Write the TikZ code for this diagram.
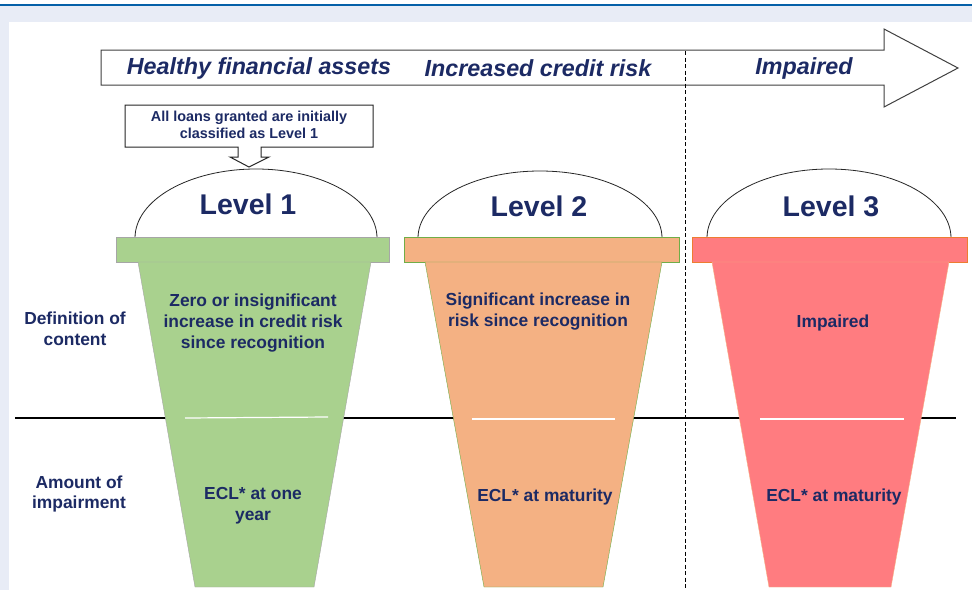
\documentclass[tikz,border=0pt]{standalone}
\usepackage{fontspec}
\setmainfont{Liberation Sans}
\definecolor{navy}{RGB}{28,42,100}
\definecolor{pagebg}{RGB}{232,236,246}
\definecolor{topline}{RGB}{5,96,168}
\definecolor{lvlgreen}{RGB}{169,209,142}
\definecolor{lvlorange}{RGB}{244,177,131}
\definecolor{lvlred}{RGB}{255,124,128}
\definecolor{edgegreen}{RGB}{112,173,71}
\definecolor{edgeorange}{RGB}{237,125,49}
\tikzset{
  phase/.style={text=navy,font=\fontsize{23.3}{26}\selectfont\bfseries\itshape},
  lvltitle/.style={text=navy,font=\fontsize{28.5}{32}\selectfont\bfseries},
  cuptext/.style={text=navy,align=center,font=\fontsize{17.4}{21}\selectfont\bfseries},
  rowlabel/.style={text=navy,align=center,font=\fontsize{17.4}{20.5}\selectfont\bfseries},
  dome/.style={draw=black!85,fill=white,line width=0.8pt},
  sepline/.style={white,line width=1.2pt}
}
\begin{document}
\begin{tikzpicture}[x=1pt,y=-1pt]
        \useasboundingbox (0,0) rectangle (972,590);
        \fill[pagebg] (0,0) rectangle (972,590);
        \fill[white] (0,0) rectangle (972,4);
        \fill[white] (9,22) rectangle (972,590);
        \draw[topline, line width=2pt] (0,4.5) -- (972,4.5);
        \draw[line width=2.2pt] (15,418) -- (956,418);
        \draw[fill=white, draw=black!75, line width=1pt] (101,50) -- (884,50) -- (884,29) -- (958,68) -- (884,107) -- (884,85) -- (101,85) -- cycle;
        \draw[dash pattern=on 4pt off 2.5pt, line width=0.9pt] (685,51) -- (685,590);
        \node[phase] (healthy) at (259,68) {Healthy financial assets};
        \node[phase] (increased) at (538,68) {Increased credit risk};
        \node[phase] (impairedphase) at (804,68) {Impaired};
        \draw[fill=white, draw=black!85, line width=1pt] (125,105) -- (373,105) -- (373,147) -- (261,147) -- (261,157) -- (269,157) -- (249,167) -- (230,157) -- (238,157) -- (238,147) -- (125,147) -- cycle;
        \node[text=navy, align=center, font=\fontsize{14.4}{17}\selectfont\bfseries] (initial) at (249,125) {All loans granted are initially\\classified as Level 1};
        \draw[dome] (135,238) arc[start angle=180, end angle=360, x radius=121, y radius=69];
        \draw[dome] (418,238) arc[start angle=180, end angle=360, x radius=122, y radius=67];
        \draw[dome] (707,238) arc[start angle=180, end angle=360, x radius=122, y radius=69];
        \fill[lvlgreen, draw=black!35] (116,237) rectangle (389,262);
        \fill[lvlorange, draw=edgegreen] (404,237) rectangle (679,262);
        \fill[lvlred, draw=edgeorange] (692,237) rectangle (967,262);
        \fill[lvlgreen, draw=black!35] (138,262) -- (371,262) -- (314,587) -- (195,587) -- cycle;
        \fill[lvlorange, draw=edgegreen] (425,262) -- (662,262) -- (603,587) -- (484,587) -- cycle;
        \fill[lvlred, draw=edgeorange!60] (712,262) -- (949,262) -- (891,587) -- (769,587) -- cycle;
        \draw[sepline] (185,418) -- (328,417);
        \draw[sepline] (472,419) -- (615,419);
        \draw[sepline] (760,419) -- (904,419);
        \node[lvltitle] (level1) at (248,204) {Level 1};
        \node[lvltitle] (level2) at (539,206) {Level 2};
        \node[lvltitle] (level3) at (831,206) {Level 3};
        \node[rowlabel] (definition) at (75,329) {Definition of\\content};
        \node[rowlabel] (amount) at (79,494) {Amount of\\impairment};
        \node[cuptext] (zero) at (253,323) {Zero or insignificant\\increase in credit risk\\since recognition};
        \node[cuptext] (significant) at (538,312) {Significant increase in\\risk since recognition};
        \node[cuptext] (impaired) at (833,323) {Impaired};
        \node[cuptext] (eclone) at (253,506) {ECL* at one\\year};
        \node[cuptext] (eclmat2) at (545,497) {ECL* at maturity};
        \node[cuptext] (eclmat3) at (834,497) {ECL* at maturity};
      \end{tikzpicture}
\end{document}
